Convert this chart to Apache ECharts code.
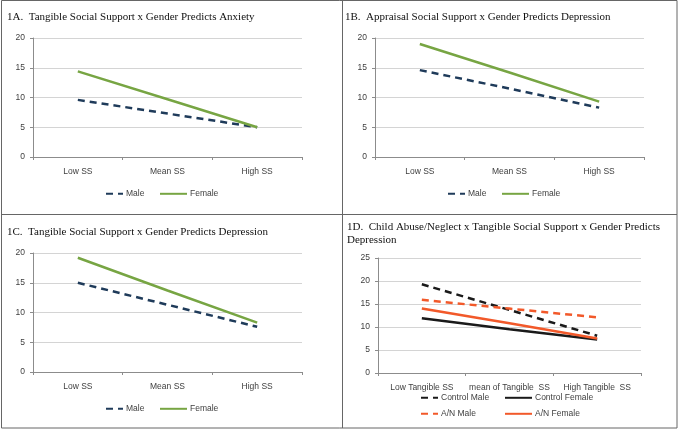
<!DOCTYPE html>
<html><head><meta charset="utf-8">
<script src="https://cdn.jsdelivr.net/npm/echarts@6/dist/echarts.min.js"></script>
<style>html,body{margin:0;padding:0;background:#fff}#c{width:678px;height:430px}</style>
</head><body><div id="c"></div>
<script>
// ---- data ----
const catsSS = ['Low SS', 'Mean SS', 'High SS'];
const catsD = ['Low Tangible SS', 'mean of Tangible  SS', 'High Tangible  SS'];
const aMale = [9.6, 7.3, 5.0];
const aFemale = [14.4, 9.7, 5.0];
const bMale = [14.6, 11.5, 8.3];
const bFemale = [19.0, 14.2, 9.3];
const cMale = [15.0, 11.3, 7.6];
const cFemale = [19.2, 13.7, 8.3];
const dControlMale = [19.3, 13.7, 8.1];
const dControlFemale = [11.9, 9.5, 7.3];
const dANMale = [15.9, 14.0, 12.1];
const dANFemale = [14.0, 10.8, 7.5];
const yTicksABC = [0, 5, 10, 15, 20];
const yTicksD = [0, 5, 10, 15, 20, 25];
const titles = [
  '1A.  Tangible Social Support x Gender Predicts Anxiety',
  '1B.  Appraisal Social Support x Gender Predicts Depression',
  '1C.  Tangible Social Support x Gender Predicts Depression',
  '1D.  Child Abuse/Neglect x Tangible Social Support x Gender Predicts',
  'Depression'
];

const NAVY = '#1F3B5A', GREEN = '#77A543', BLACK = '#1a1a1a', ORANGE = '#F2592A';
const LF = '"Liberation Sans", sans-serif';
const labelStyle = {fontFamily: LF, fontSize: 8.5, color: '#404040'};

const grids = [
  {left: 33, top: 38, width: 269, height: 119},
  {left: 375, top: 38, width: 269, height: 119},
  {left: 33, top: 253, width: 269, height: 119},
  {left: 378, top: 258, width: 263, height: 115}
];

function xAx(i, cats) {
  return {type: 'category', gridIndex: i, data: cats, boundaryGap: true,
    axisLine: {lineStyle: {color: '#8c8c8c', width: 1}},
    axisTick: {show: true, length: 3, lineStyle: {color: '#8c8c8c'}},
    axisLabel: Object.assign({margin: 10, interval: 0}, labelStyle),
    splitLine: {show: false}};
}
function yAx(i, ticks) {
  return {type: 'value', gridIndex: i, min: ticks[0], max: ticks[ticks.length - 1], interval: ticks[1] - ticks[0],
    axisLine: {show: true, lineStyle: {color: '#8c8c8c', width: 1}},
    axisTick: {show: true, length: 3, lineStyle: {color: '#8c8c8c'}},
    axisLabel: Object.assign({margin: 8}, labelStyle),
    splitLine: {show: true, lineStyle: {color: '#d4d4d4', width: 1}}};
}
function ser(name, i, data, color, dashed) {
  return {name: name, type: 'line', xAxisIndex: i, yAxisIndex: i, data: data,
    symbol: 'none', showSymbol: false, silent: true, animation: false,
    lineStyle: {color: color, width: 2.5, type: dashed ? [7, 5] : 'solid', cap: 'butt'},
    itemStyle: {color: color}};
}
function leg(name, left, cy, w) {
  return {data: [name], left: left, top: cy - 6, itemWidth: w, itemHeight: 12, padding: 0,
    itemGap: 0, selectedMode: false, itemStyle: {opacity: 0},
    textStyle: {fontFamily: LF, fontSize: 8.5, color: '#404040', padding: [0, 0, 0, -2]}};
}

const option = {
  animation: false,
  backgroundColor: '#fff',
  grid: grids,
  xAxis: [xAx(0, catsSS), xAx(1, catsSS), xAx(2, catsSS), xAx(3, catsD)],
  yAxis: [yAx(0, yTicksABC), yAx(1, yTicksABC), yAx(2, yTicksABC), yAx(3, yTicksD)],
  legend: [
    leg('Male', 105, 195, 17), leg('Female', 159, 195, 27),
    leg('Male ', 447, 195, 17), leg('Female ', 501, 195, 27),
    leg('Male  ', 105, 410, 17), leg('Female  ', 159, 410, 27),
    leg('Control Male', 420, 399, 17), leg('Control Female', 504, 399, 27),
    leg('A/N Male', 420, 415, 17), leg('A/N Female', 504, 415, 27)
  ],
  series: [
    ser('Male', 0, aMale, NAVY, true), ser('Female', 0, aFemale, GREEN, false),
    ser('Male ', 1, bMale, NAVY, true), ser('Female ', 1, bFemale, GREEN, false),
    ser('Male  ', 2, cMale, NAVY, true), ser('Female  ', 2, cFemale, GREEN, false),
    ser('Control Male', 3, dControlMale, BLACK, true), ser('Control Female', 3, dControlFemale, BLACK, false),
    ser('A/N Male', 3, dANMale, ORANGE, true), ser('A/N Female', 3, dANFemale, ORANGE, false)
  ],
  graphic: [
    {type: 'rect', shape: {x: 1.5, y: 0.5, width: 675.5, height: 427.5}, style: {fill: 'none', stroke: '#666', lineWidth: 1}, silent: true},
    {type: 'line', shape: {x1: 342.5, y1: 0, x2: 342.5, y2: 428}, style: {stroke: '#666', lineWidth: 1}, silent: true},
    {type: 'line', shape: {x1: 1, y1: 214.5, x2: 677, y2: 214.5}, style: {stroke: '#666', lineWidth: 1}, silent: true},
    {type: 'text', x: 7, y: 17, style: {text: titles[0], font: '11px "Liberation Serif"', fill: '#111', verticalAlign: 'middle'}},
    {type: 'text', x: 345, y: 17, style: {text: titles[1], font: '11px "Liberation Serif"', fill: '#111', verticalAlign: 'middle'}},
    {type: 'text', x: 7, y: 232, style: {text: titles[2], font: '11px "Liberation Serif"', fill: '#111', verticalAlign: 'middle'}},
    {type: 'text', x: 347, y: 227, style: {text: titles[3], font: '11px "Liberation Serif"', fill: '#111', verticalAlign: 'middle'}},
    {type: 'text', x: 347, y: 240, style: {text: titles[4], font: '11px "Liberation Serif"', fill: '#111', verticalAlign: 'middle'}}
  ]
};
const chart = echarts.init(document.getElementById('c'), null, {renderer: 'canvas'});
chart.setOption(option);
</script></body></html>
